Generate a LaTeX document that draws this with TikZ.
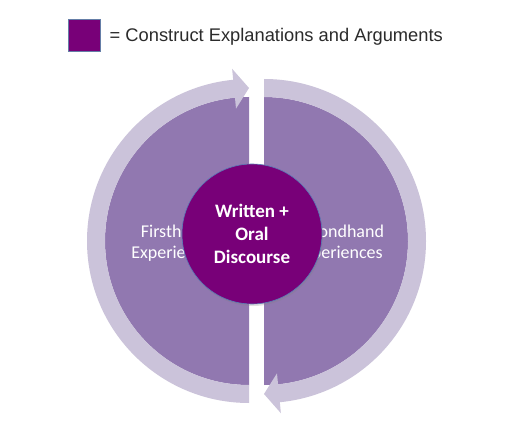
\documentclass[tikz,border=0pt]{standalone}
\usepackage{fontspec}
\setmainfont{Liberation Sans}
\newfontfamily\calibri{Carlito}
\usetikzlibrary{shadows}
\definecolor{diskpurple}{HTML}{9178B0}
\definecolor{bandlav}{HTML}{CBC3DA}
\definecolor{corepurple}{HTML}{780078}
\definecolor{rimblue}{HTML}{5A7DB8}
\definecolor{legendtext}{HTML}{2B2B2B}
\tikzset{
  halftext/.style={text=white, align=center, font=\calibri\fontsize{18}{21}\selectfont},
  coretext/.style={circle, fill=corepurple, draw=rimblue, line width=0.6pt, minimum size=140pt, inner sep=0pt,
    align=center, text=white, font=\calibri\bfseries\fontsize{19}{23}\selectfont,
    drop shadow={opacity=0.25, shadow xshift=1pt, shadow yshift=-2pt}},
}
\begin{document}
\begin{tikzpicture}[x=1pt,y=1pt]
\useasboundingbox (0,0) rectangle (511,426);
\fill[white] (0,0) rectangle (511,426);
% legend
\node[fill=corepurple, draw=rimblue!70!gray, line width=0.5pt, minimum size=32pt, inner sep=0pt] (key) at (84.5,391) {};
\node[anchor=base west, text=legendtext, font=\fontsize{18.3}{22}\selectfont, inner sep=0pt] (keytext) at (109.5,384) {= Construct Explanations and Arguments};
% left half
\begin{scope}[shift={(249,185)}]
\fill[diskpurple] (90:144) arc[start angle=90,end angle=270,radius=144] -- cycle;
\fill[bandlav] (270:162) arc[start angle=270,end angle=95.6,radius=162] -- (95.6:173) -- (90:153) -- (95.6:133) -- (95.6:144) arc[start angle=95.6,end angle=270,radius=144] -- cycle;
\end{scope}
% right half
\begin{scope}[shift={(264,185)}]
\fill[diskpurple] (90:144) arc[start angle=90,end angle=-90,radius=144] -- cycle;
\fill[bandlav] (90:162) arc[start angle=90,end angle=-84.4,radius=162] -- (-84.4:173) -- (-90:153) -- (-84.4:133) -- (-84.4:144) arc[start angle=-84.4,end angle=90,radius=144] -- cycle;
\end{scope}
\node[halftext] (first) at (175,183) {Firsthand\\Experiences};
\node[halftext] (second) at (339,183) {Secondhand\\Experiences};
\node[coretext] (core) at (252,192) {Written +\\Oral\\Discourse};
\end{tikzpicture}
\end{document}
